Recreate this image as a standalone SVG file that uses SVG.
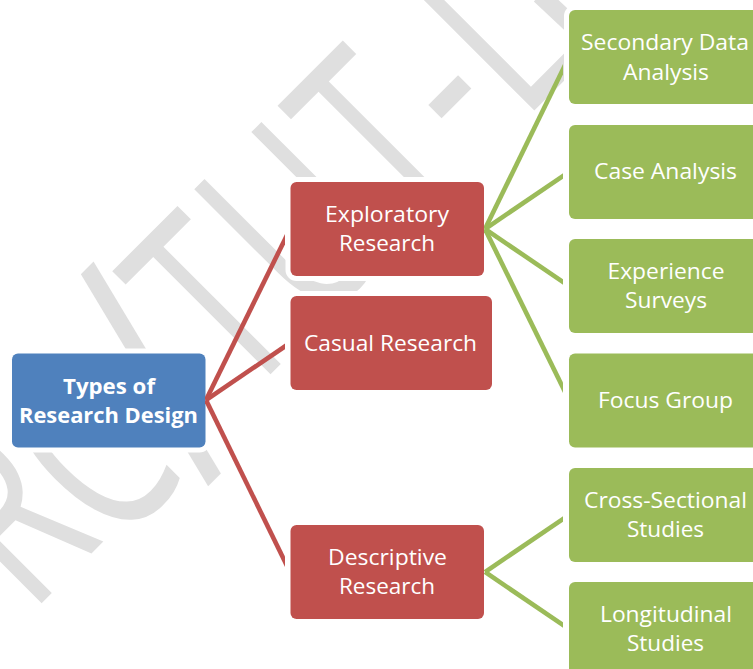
<svg xmlns="http://www.w3.org/2000/svg" width="753" height="669" viewBox="0 0 753 669">
<style>
.wm{font-family:"Open Sans","DejaVu Sans",sans-serif;font-size:259px;fill:#dfdfdf}
.c{fill:none;stroke-width:4.6}
.r{stroke:#c0504d}.g{stroke:#9bbb59}
.box{stroke:#fff;stroke-width:10;paint-order:stroke}
.blue{fill:#4f81bd}.red{fill:#c0504d}.green{fill:#9bbb59}
text.t{font-family:"Open Sans","Noto Sans",sans-serif;font-size:22px;fill:#fff}
text.b{font-weight:700}
</style>
<defs>
<clipPath id="cr"><rect x="205" y="0" width="80" height="669"/></clipPath>
<clipPath id="cg"><rect x="484" y="0" width="79" height="669"/></clipPath>
</defs>
<rect width="753" height="669" fill="#fff"/>
<g id="watermark">
<text class="wm" transform="rotate(-45) scale(.67,1)" y="456" x="-618" >R</text>
<text class="wm" transform="rotate(-45) scale(.67,1)" y="470" x="-463">C</text>
<text class="wm" transform="rotate(-45) scale(.67,1)" y="491" x="-297" style="font-size:336px">/</text>
<text class="wm" transform="rotate(-45) scale(.67,1)" y="456" x="-170 -18 179 331 422">TUT-L</text>
<line x1="540" y1="-5" x2="572" y2="25" stroke="#dfdfdf" stroke-width="18"/>
</g>
<g id="root"><rect class="box blue" x="12" y="353.500" width="193.500" height="94" rx="6"/>
<text class="t b" x="63" y="394" textLength="92" lengthAdjust="spacingAndGlyphs">Types of</text>
<text class="t b" x="19" y="423" textLength="179" lengthAdjust="spacingAndGlyphs">Research Design</text></g>
<g id="exploratory"><rect class="box red" x="290.500" y="182" width="193.500" height="94" rx="6"/>
<text class="t" x="325" y="222" textLength="124" lengthAdjust="spacingAndGlyphs">Exploratory</text>
<text class="t" x="339" y="251" textLength="96" lengthAdjust="spacingAndGlyphs">Research</text></g>
<g id="casual"><rect class="box red" x="290.500" y="296" width="201.500" height="94" rx="6"/>
<text class="t" x="304" y="351" textLength="173" lengthAdjust="spacingAndGlyphs">Casual Research</text></g>
<g id="descriptive"><rect class="box red" x="290.500" y="525" width="193.500" height="94" rx="6"/>
<text class="t" x="328" y="565" textLength="119" lengthAdjust="spacingAndGlyphs">Descriptive</text>
<text class="t" x="339" y="594" textLength="96" lengthAdjust="spacingAndGlyphs">Research</text></g>
<g id="secondary"><rect class="box green" x="569" y="10" width="200" height="94" rx="6"/>
<text class="t" x="581" y="50" textLength="168" lengthAdjust="spacingAndGlyphs">Secondary Data</text>
<text class="t" x="623" y="80" textLength="86" lengthAdjust="spacingAndGlyphs">Analysis</text></g>
<g id="case"><rect class="box green" x="569" y="125" width="200" height="94" rx="6"/>
<text class="t" x="594" y="179" textLength="143" lengthAdjust="spacingAndGlyphs">Case Analysis</text></g>
<g id="experience"><rect class="box green" x="569" y="239" width="200" height="94" rx="6"/>
<text class="t" x="607.500" y="279" textLength="117" lengthAdjust="spacingAndGlyphs">Experience</text>
<text class="t" x="625" y="308" textLength="82" lengthAdjust="spacingAndGlyphs">Surveys</text></g>
<g id="focus"><rect class="box green" x="569" y="353.500" width="200" height="94" rx="6"/>
<text class="t" x="598" y="408" textLength="135" lengthAdjust="spacingAndGlyphs">Focus Group</text></g>
<g id="cross"><rect class="box green" x="569" y="468" width="200" height="94" rx="6"/>
<text class="t" x="584" y="508" textLength="163" lengthAdjust="spacingAndGlyphs">Cross-Sectional</text>
<text class="t" x="627" y="537" textLength="77" lengthAdjust="spacingAndGlyphs">Studies</text></g>
<g id="longitudinal"><rect class="box green" x="569" y="582" width="200" height="94" rx="6"/>
<text class="t" x="600" y="622" textLength="132" lengthAdjust="spacingAndGlyphs">Longitudinal</text>
<text class="t" x="627" y="651" textLength="77" lengthAdjust="spacingAndGlyphs">Studies</text></g>
<g id="connectors">
<g clip-path="url(#cr)">
<line class="c r" x1="206" y1="400" x2="290" y2="229"/>
<line class="c r" x1="206" y1="400" x2="290" y2="343"/>
<line class="c r" x1="206" y1="400" x2="290" y2="572"/>
</g>
<g clip-path="url(#cg)">
<line class="c g" x1="485" y1="229" x2="569" y2="57"/>
<line class="c g" x1="485" y1="229" x2="569" y2="172"/>
<line class="c g" x1="485" y1="229" x2="569" y2="286"/>
<line class="c g" x1="485" y1="229" x2="569" y2="400"/>
<line class="c g" x1="485" y1="572" x2="569" y2="515"/>
<line class="c g" x1="485" y1="572" x2="569" y2="629"/>
</g>
</g>
</svg>
